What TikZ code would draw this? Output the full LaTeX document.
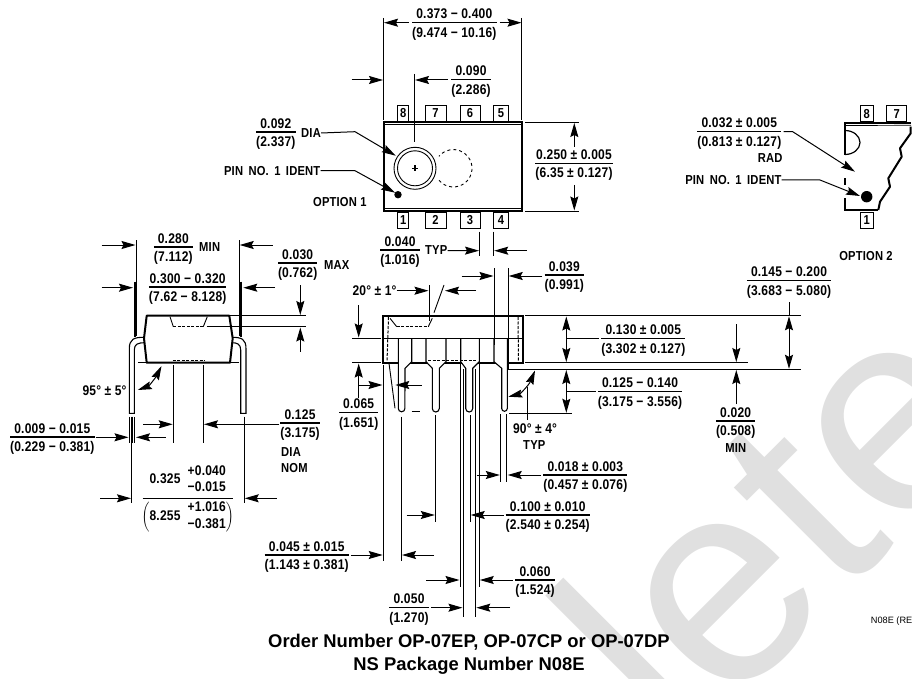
\documentclass[tikz,border=0pt]{standalone}
\usepackage{fontspec}
\usepackage{array}
\usetikzlibrary{arrows.meta}
\setmainfont{Liberation Sans}
\newfontfamily\dimfont{Liberation Sans}[FakeStretch=0.86,LetterSpace=1.5]
\setlength{\arrayrulewidth}{1.3pt}
\newcommand{\fracdim}[2]{\begin{tabular}{@{}c@{}}#1\\[-2.7pt]\hline #2\end{tabular}}
\newcommand{\stackdim}[2]{\fontsize{14}{16.5}\selectfont\begin{tabular}{@{}c@{}}#1\\#2\end{tabular}}
\newcommand{\rng}{\hspace{3.5pt}−\hspace{3.5pt}}
\newcommand{\tol}{\hspace{3.5pt}±\hspace{3.5pt}}
\tikzset{
	dimlabel/.style={font=\dimfont\bfseries\fontsize{14}{20}\selectfont,inner sep=0pt,align=center},
	dimfrac/.style={dimlabel,yshift=-1.4pt},
	notelabel/.style={font=\dimfont\bfseries\fontsize{13}{15}\selectfont,inner sep=0pt,align=center},
	pinbox/.style={draw,line width=1pt,font=\dimfont\bfseries\fontsize{13}{14}\selectfont,inner sep=0pt,minimum height=16pt},
	extline/.style={line width=.9pt},
	dimarrow/.style={line width=1pt,-{Stealth[length=14pt,width=8pt,inset=2pt]}},
	twoarrow/.style={line width=1pt,{Stealth[length=14pt,width=8pt,inset=2pt]}-{Stealth[length=14pt,width=8pt,inset=2pt]}},
	bodyline/.style={line width=2pt},
	hiddenline/.style={line width=1pt,dash pattern=on 3pt off 1.5pt},
	leadline/.style={line width=1.1pt,fill=white}
}
\begin{document}
\begin{tikzpicture}[x=1pt,y=-1pt]
	\useasboundingbox (0,0) rectangle (912,679);

\begin{scope}
	\clip (0,0) rectangle (912,679);
	\node[anchor=base west,rotate=45,inner sep=0pt,text=black!12,font=\fontsize{290}{290}\selectfont] (stamp) at (680,759) {lete};
	\node[anchor=west,inner sep=0pt,font=\fontsize{9.2}{10}\selectfont] (drawnum) at (870.7,620.7) {N08E (RE};
\end{scope}

\begin{scope}
	\draw[bodyline] (383.7,122.3) rectangle (522,211);
	\draw[line width=.7pt] (383.7,124.5) -- (522,124.5);
	\draw[line width=.7pt] (383.7,208.8) -- (522,208.8);
	\draw[extline] (415,168.3) circle (21);
	\draw[extline] (415,168.3) circle (17.5);
	\draw[line width=1.1pt] (412,168.3) -- (418,168.3) (415,165.3) -- (415,171.3);
	\draw[extline,dashed] (439,180.3) arc[start angle=140,end angle=-140,radius=18.7];
	\fill (398,194.7) circle (3.7);
\end{scope}

\foreach \pinname/\pinx/\pinw/\piny in {8/403.3/10.7/113.3,7/435.5/21/113.3,6/470/20/113.3,5/501/15/113.3,1/403.3/10.7/220.3,2/435.5/21/220.3,3/470/20/220.3,4/501/15/220.3}
	\node[pinbox,minimum width=\pinw pt] (pin\pinname) at (\pinx,\piny) {\pinname};

\node[dimfrac] (lendim) at (454.3,22.7) {\fracdim{0.373\rng 0.400}{(9.474\rng 10.16)}};
\draw[extline] (383.7,18) -- (383.7,120);
\draw[extline] (521.7,18) -- (521.7,120);
\draw[dimarrow] ([xshift=-3pt]lendim.west |- 0,22.7) -- (384,22.7);
\draw[dimarrow] ([xshift=3pt]lendim.east |- 0,22.7) -- (521.5,22.7);

\node[dimfrac] (windim) at (471,79.5) {\fracdim{0.090}{(2.286)}};
\draw[extline] (414.3,74) -- (414.3,141.7);
\draw[dimarrow] (351.7,80) -- (383,80);
\draw[dimarrow] ([xshift=-3pt]windim.west |- 0,80) -- (415,80);

\node[dimfrac] (diadim) at (275.8,132) {\fracdim{0.092}{(2.337)}};
\node[notelabel,anchor=west] (dianote) at (301,133) {DIA};
\draw[dimarrow] (dianote.east) -- (355,131.7) -- (395.7,155.7);
\node[notelabel,anchor=east] (identa) at (320.5,170.7) {PIN\,\ NO.\,\ 1\,\ IDENT};
\draw[dimarrow] (identa.east) -- (355,170.7) -- (395,192.7);
\node[notelabel] (opta) at (339.8,201.7) {OPTION 1};

\node[dimfrac] (widedim) at (574,163.3) {\fracdim{0.250\tol 0.005}{(6.35\tol 0.127)}};
\draw[extline] (525,122.3) -- (579.3,122.3);
\draw[extline] (525,211) -- (579.3,211);
\draw[dimarrow] (574.3,146.7) -- (574.3,123);
\draw[dimarrow] (574.3,185) -- (574.3,210.5);

\node[dimfrac] (pitchdim) at (400,250) {\fracdim{0.040}{(1.016)}};
\node[notelabel,anchor=west] (typa) at (425,250.5) {TYP};
\draw[extline] (479.5,231.7) -- (479.5,256);
\draw[extline] (493.7,231.7) -- (493.7,256);
\draw[dimarrow] (typa.east) -- (479,250.7);
\draw[dimarrow] (526.7,250.7) -- (494.2,250.7);

\begin{scope}
	\draw[leadline] (144,337.3) .. controls (134,337.3) and (129.3,339) .. (129.3,349) -- (129.3,413.3) -- (134.3,413.3) -- (134.3,350) .. controls (134.3,344) and (138,342.7) .. (145,342.7);
	\draw[leadline] (231.7,337.3) .. controls (241.7,337.3) and (246,339) .. (246,349) -- (246,413.3) -- (240.7,413.3) -- (240.7,350) .. controls (240.7,344) and (237,342.7) .. (231.7,342.7);
	\draw[bodyline,fill=white,line join=round] (146.7,315.7) -- (229.3,315.7) -- (232.7,338.3) -- (230,362.7) -- (146.7,362.7) -- (144,338.3) -- cycle;
	\draw[extline] (170,316.7) -- (173.3,326.7);
	\draw[hiddenline] (173.3,326.7) -- (203.3,326.7);
	\draw[extline] (203.3,326.7) -- (207.3,316.7);
	\draw[hiddenline,line width=1.4pt] (172.7,360.3) -- (204.3,360.3);
	\draw[extline] (138,362.7) -- (146.7,362.7);
	\draw[extline] (230,362.7) -- (239.3,362.7);
	\draw[line width=1.6pt] (135,281.7) -- (135,337);
	\draw[line width=1.6pt] (240.7,281.7) -- (240.7,337);
\end{scope}

\node[dimfrac] (seatdim) at (173.3,247) {\fracdim{0.280}{(7.112)}};
\node[notelabel,anchor=west] (mina) at (199,247.3) {MIN};
\draw[extline] (136,240) -- (136,336);
\draw[extline] (239,240) -- (239,336);
\draw[dimarrow] (101.7,245) -- (135.5,245);
\draw[dimarrow] (272.7,245) -- (239.7,245);

\node[dimfrac] (spandim) at (187.7,287) {\fracdim{0.300\rng 0.320}{(7.62\rng 8.128)}};
\draw[dimarrow] (101.7,287.7) -- (133,287.7);
\draw[dimarrow] (275,287.7) -- (243.3,287.7);

\node[dimfrac] (recdim) at (297.7,263) {\fracdim{0.030}{(0.762)}};
\node[notelabel,anchor=west] (maxa) at (324,265) {MAX};
\draw[extline] (229.3,315.7) -- (305.7,315.7);
\draw[extline] (206.7,326.7) -- (305.7,326.7);
\draw[dimarrow] (300.3,285) -- (300.3,315);
\draw[dimarrow] (300.3,351.7) -- (300.3,327.5);

\node[dimlabel,anchor=east] (anglea) at (126.7,390.7) {95°\tol 5°};
\draw[twoarrow] (137.8,390) .. controls (149,386) and (156,377) .. (161.5,366);

\node[dimfrac] (rounddim) at (300,423) {\fracdim{0.125}{(3.175)}};
\node[notelabel,anchor=west] (diab) at (281,451.7) {DIA};
\node[notelabel,anchor=west] (nomb) at (281,468.3) {NOM};
\draw[extline] (173,365) -- (173,443);
\draw[extline] (203.3,365) -- (203.3,443);
\draw[dimarrow] (143.3,424.3) -- (172.7,424.3);
\draw[dimarrow] ([xshift=-1pt]rounddim.west |- 0,424.3) -- (204,424.3);

\node[dimfrac] (thkdim) at (52.3,437) {\fracdim{0.009\rng 0.015}{(0.229\rng 0.381)}};
\draw[extline] (129.3,416.7) -- (129.3,443.3);
\draw[line width=1.2pt] (132.3,416.7) -- (132.3,443.3);
\draw[extline] (134.8,416.7) -- (134.8,443.3);
\draw[dimarrow] ([xshift=1pt]thkdim.east |- 0,437.3) -- (128.5,437.3);
\draw[dimarrow] (165.7,437.3) -- (136,437.3);

\node[dimlabel,anchor=south] (pkgtop) at (187.7,497) {0.325\ \ \stackdim{+0.040}{−0.015}};
\node[dimlabel,anchor=north] (pkgbot) at (187.7,500) {$\left(\hbox{8.255\ \ \stackdim{+1.016}{−0.381}}\right)$};
\draw[line width=1.3pt] (142.7,498.3) -- (232.7,498.3);
\draw[extline] (131.7,416.7) -- (131.7,503.3);
\draw[extline] (244,416.7) -- (244,503.3);
\draw[dimarrow] (100,498.3) -- (131,498.3);
\draw[dimarrow] (276.7,498.3) -- (244.7,498.3);

\begin{scope}
	\draw[bodyline] (383.3,315.7) rectangle (522.7,362.7);
	\draw[extline] (383.3,338.3) -- (522.7,338.3);
	\draw[leadline] (398.3,339) -- (398.3,408.5) arc[start angle=180,end angle=0,radius=3.3] -- (405,368.3) -- (411.7,361.7) -- (411.7,339);
	\draw[leadline] (426,339) -- (426,361.7) -- (432.3,368.3) -- (432.3,408.5) arc[start angle=180,end angle=0,radius=3.5] -- (439.3,368.3) -- (446,361.7) -- (446,339);
	\draw[leadline] (460.7,339) -- (460.7,361.7) -- (465.7,368.3) -- (465.7,408.5) arc[start angle=180,end angle=0,radius=3.5] -- (472.7,368.3) -- (479.3,361.7) -- (479.3,339);
	\draw[leadline] (494,339) -- (494,361.7) -- (501.7,368.3) -- (501.7,408.5) arc[start angle=180,end angle=0,radius=2.8] -- (507.3,339);
	\draw[hiddenline] (428,360) -- (477,360);
	\draw[hiddenline] (388.5,317) -- (387,361.5);
	\draw[hiddenline] (518,317) -- (518.5,361.5);
	\draw[extline] (390,318.3) -- (396.7,326.7);
	\draw[hiddenline] (396.7,326.7) -- (428.3,326.7);
	\draw[extline] (428.3,326.7) -- (432.3,318.3);
\end{scope}

\draw[extline] (352.3,338.3) -- (381,338.3);
\draw[extline] (352.3,362.7) -- (381,362.7);
\draw[extline] (429,285) -- (429,321);
\draw[extline] (444,285) -- (434,312.7);

\node[dimlabel,anchor=east] (slopea) at (396.7,290.7) {20°\tol 1°};
\draw[dimarrow] (slopea.east) -- (428.5,290.7);
\draw[dimarrow] (476,290.7) -- (445,290.7);

\node[dimfrac] (tipdim) at (564.3,275) {\fracdim{0.039}{(0.991)}};
\draw[extline] (494,268.3) -- (494,345);
\draw[extline] (508,268.3) -- (508,369);
\draw[dimarrow] (461.7,276) -- (493.5,276);
\draw[dimarrow] ([xshift=-2pt]tipdim.west |- 0,276) -- (508.7,276);

\node[dimfrac] (shoulderdim) at (358.7,412.7) {\fracdim{0.065}{(1.651)}};
\draw[dimarrow] (358.7,305) -- (358.7,337.5);
\draw[dimarrow] (358.7,398) -- (358.7,363.5);
\draw[dimarrow] (358.7,385) -- (382.5,385);
\draw[dimarrow] (421.7,385) -- (395.3,385);
\draw[extline] (383.3,365) -- (383.3,560.7);
\draw[extline] (389,363.3) -- (395,408.3);
\draw[line width=1pt] (411.7,411.7) -- (420,411.7);

\draw[extline] (525,315.7) -- (800.7,315.7);
\draw[extline] (525,362.7) -- (748.3,362.7);
\draw[extline] (508.3,369.3) -- (800.7,369.3);
\draw[extline] (509.3,413.3) -- (571.7,413.3);

\node[dimfrac] (bodydim) at (643.3,338.3) {\fracdim{0.130\tol 0.005}{(3.302\tol 0.127)}};
\draw[twoarrow] (566.3,316.5) -- (566.3,362);
\draw[extline] (566.3,338.3) -- ([xshift=-2pt]bodydim.west |- 0,338.3);
\node[dimfrac] (lenleaddim) at (640,391.3) {\fracdim{0.125\rng 0.140}{(3.175\rng 3.556)}};
\draw[twoarrow] (566.3,370) -- (566.3,412.8);
\draw[extline] (566.3,391.5) -- ([xshift=-2pt]lenleaddim.west |- 0,391.5);

\node[dimfrac] (gapdim) at (735.7,421) {\fracdim{0.020}{(0.508)}};
\node[notelabel] (minb) at (735.7,448.3) {MIN};
\draw[dimarrow] (736.3,324.3) -- (736.3,362);
\draw[dimarrow] (736.3,404) -- (736.3,370);

\node[dimfrac] (seathdim) at (789,280.7) {\fracdim{0.145\rng 0.200}{(3.683\rng 5.080)}};
\draw[extline] (789,302.3) -- (789,316);
\draw[twoarrow] (789,316.3) -- (789,368.8);

\node[dimlabel] (rightanglea) at (535,428.3) {90°\tol 4°};
\node[notelabel] (typb) at (534.3,445) {TYP};
\draw[twoarrow] (508.3,396.7) .. controls (520,394) and (529,385) .. (535,370.5);
\draw[extline] (527.3,386.7) -- (527.3,420);

\node[dimfrac] (pindim) at (585.3,475) {\fracdim{0.018\tol 0.003}{(0.457\tol 0.076)}};
\draw[extline] (500.7,414) -- (500.7,481.7);
\draw[extline] (506.7,414) -- (506.7,481.7);
\draw[dimarrow] (476.7,475) -- (499.8,475);
\draw[dimarrow] ([xshift=-2pt]pindim.west |- 0,475) -- (507.7,475);

\node[dimfrac] (rowdim) at (547.7,515) {\fracdim{0.100\tol 0.010}{(2.540\tol 0.254)}};
\draw[extline] (401.5,416.7) -- (401.5,560.5);
\draw[extline] (435.3,415) -- (435.3,521.7);
\draw[extline] (460,363.3) -- (460,586.7);
\draw[extline] (463,369) -- (463,616.7);
\draw[extline] (470,415) -- (470,522.3);
\draw[extline] (475.8,369) -- (475.8,616.7);
\draw[extline] (479.3,363.3) -- (479.3,586.7);
\draw[dimarrow] (406.7,515) -- (434.8,515);
\draw[dimarrow] ([xshift=-2pt]rowdim.west |- 0,515) -- (470.7,515);

\node[dimfrac] (enddim) at (306.7,555) {\fracdim{0.045\tol 0.015}{(1.143\tol 0.381)}};
\draw[dimarrow] ([xshift=2pt]enddim.east |- 0,555) -- (382.7,555);
\draw[dimarrow] (434,555) -- (402,555);

\node[dimfrac] (spacedim) at (535,580) {\fracdim{0.060}{(1.524)}};
\draw[dimarrow] (426,580) -- (459.5,580);
\draw[dimarrow] ([xshift=-2pt]spacedim.west |- 0,580) -- (479.8,580);

\node[dimfrac] (gaugedim) at (409,607.7) {\fracdim{0.050}{(1.270)}};
\draw[dimarrow] ([xshift=2pt]gaugedim.east |- 0,607.7) -- (462.5,607.7);
\draw[dimarrow] (510,607.7) -- (476.3,607.7);

\node[inner sep=0pt,font=\bfseries\fontsize{18.4}{20}\selectfont] (orderline) at (469,642) {Order Number OP-07EP, OP-07CP or OP-07DP};
\node[inner sep=0pt,font=\bfseries\fontsize{18.4}{20}\selectfont] (pkgline) at (469,665.7) {NS Package Number N08E};

\begin{scope}
	\clip (0,0) rectangle (912,679);
	\draw[bodyline] (845,155) -- (845,123.3) -- (911,123.3);
	\draw[line width=.7pt] (845,125.5) -- (911,125.3);
	\draw[bodyline] (845,178.5) -- (845,185);
	\draw[bodyline] (845,198) -- (845,210) -- (878.3,210);
	\draw[line width=1.2pt] (845,154.5) arc[start angle=90,end angle=-90,x radius=15,y radius=12];
	\draw[bodyline,line join=round] (878.3,210) -- (880,201.7) -- (890,186.7) -- (888.3,178.3) -- (901.7,156.7) -- (900,148.3) -- (910.7,133.3) -- (910.7,126.7);
	\fill (866.7,196.7) circle (5.7);
	\node[pinbox,minimum width=13.3pt] (pinb8) at (866.7,114) {8};
	\node[pinbox,minimum width=20pt] (pinb7) at (896.7,114) {7};
	\node[pinbox,minimum width=13.3pt] (pinb1) at (866.7,220.3) {1};
\end{scope}

\node[dimfrac] (raddim) at (739.3,131.7) {\fracdim{0.032\tol 0.005}{(0.813\tol 0.127)}};
\node[notelabel,anchor=east] (rada) at (782.7,158.3) {RAD};
\draw[dimarrow] ([xshift=2pt]raddim.east |- 0,131.7) -- (792.7,131.7) -- (855,171.7);
\node[notelabel,anchor=east] (identb) at (781.7,180) {PIN\,\ NO.\,\ 1\,\ IDENT};
\draw[dimarrow] (identb.east) -- (820,180) -- (860,196);
\node[notelabel] (optb) at (866,255.7) {OPTION 2};
\end{tikzpicture}
\end{document}
